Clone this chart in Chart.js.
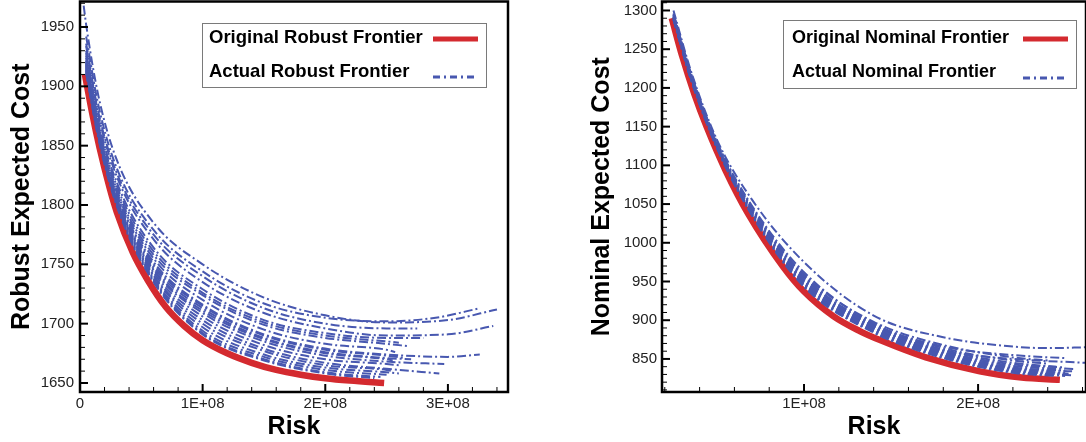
<!DOCTYPE html>
<html>
<head>
<meta charset="utf-8">
<script src="https://cdn.jsdelivr.net/npm/chart.js@4.4.1/dist/chart.umd.min.js"></script>
<style>
  html, body { margin: 0; padding: 0; background: #fff; }
  body { width: 1086px; height: 442px; position: relative; overflow: hidden; }
  .panel { position: absolute; top: 0; height: 442px; }
  #left  { left: 0; width: 540px; }
  #right { left: 575px; width: 511px; }
</style>
</head>
<body>
<div class="panel" id="left"><canvas id="robustChart" width="540" height="442"></canvas></div>
<div class="panel" id="right"><canvas id="nominalChart" width="511" height="442"></canvas></div>
<script>
'use strict';

/* ── DATA (risk in units of 1E+08) ── */

// Left panel — original robust frontier
const robustRedRisk = [0.04, 0.1, 0.16, 0.24, 0.3, 0.43, 0.55, 0.7, 0.85, 1.0, 1.2, 1.4, 1.6, 1.8, 2.0, 2.2, 2.48];
const robustRedCost = [1910, 1877, 1848, 1815, 1794, 1760, 1737, 1714, 1698, 1686, 1675, 1667, 1661, 1657, 1654, 1652, 1650];

// Left panel — actual robust frontiers, sampled on a shared risk grid
const robustGrid = [0.05, 0.15, 0.3, 0.6, 1.0, 1.5, 2.0, 2.5];
const robustActual = [
  [1952, 1892, 1838, 1785, 1750, 1722, 1707, 1701],
  [1942, 1884, 1831, 1779, 1744, 1717, 1705, 1702],
  [1936, 1878, 1827, 1775, 1740, 1713, 1700, 1696],
  [1934, 1876, 1824, 1771, 1735, 1709, 1696, 1690],
  [1930, 1871, 1819, 1764, 1729, 1703, 1692, 1688],
  [1928, 1869, 1816, 1761, 1726, 1701, 1690, 1685],
  [1926, 1867, 1813, 1758, 1724, 1699, 1688, 1683],
  [1924, 1865, 1811, 1755, 1720, 1695, 1683, 1678],
  [1922, 1864, 1809, 1752, 1716, 1691, 1679, 1674],
  [1921, 1863, 1808, 1750, 1715, 1690, 1678, 1673],
  [1920, 1862, 1806, 1748, 1713, 1688, 1676, 1671],
  [1919, 1861, 1805, 1746, 1711, 1687, 1675, 1670],
  [1918, 1861, 1805, 1745, 1709, 1685, 1673, 1668],
  [1917, 1860, 1804, 1743, 1706, 1682, 1670, 1666],
  [1916, 1860, 1804, 1741, 1703, 1679, 1667, 1662],
  [1915, 1860, 1803, 1740, 1700, 1677, 1665, 1661],
  [1914, 1859, 1802, 1738, 1697, 1674, 1663, 1659],
  [1913, 1858, 1801, 1737, 1694, 1672, 1661],
  [1912, 1857, 1800, 1736, 1692, 1670, 1659],
  [1911, 1856, 1799, 1735, 1691, 1669, 1658]
];
// extra points after the grid for each line: [risk, cost]
const robustTails = [
  [[3.0, 1703], [3.4, 1712]],
  [[2.9, 1705], [3.26, 1713]],
  [[2.75, 1696]],
  [[3.0, 1691], [3.37, 1698]],
  [[2.8, 1688]],
  [[2.6, 1684]],
  [[2.68, 1681]],
  [[2.57, 1676]],
  [[3.0, 1672], [3.26, 1674]],
  [[2.65, 1671]],
  [[2.7, 1670]],
  [[2.55, 1669]],
  [[2.97, 1666]],
  [[2.6, 1665]],
  [[2.93, 1658]],
  [[2.55, 1660]],
  [[2.6, 1658]],
  [[2.5, 1657]],
  [[2.45, 1655]],
  [[2.4, 1654]]
];
const robustTopStart = [0.03, 1968];

// Right panel — original nominal frontier
const nominalRedRisk = [0.24, 0.3, 0.37, 0.44, 0.55, 0.68, 0.88, 1.0, 1.17, 1.32, 1.44, 1.7, 2.01, 2.25, 2.47];
const nominalRedCost = [1290, 1241, 1192, 1150, 1093, 1037, 969, 937, 905, 886, 874, 852, 834, 826, 823];

// Right panel — actual nominal frontiers
const nominalGrid = [0.25, 0.35, 0.5, 0.7, 1.0, 1.4, 1.8, 2.2];
const nominalActual = [
  [1300, 1222, 1133, 1056, 975, 906, 878, 866],
  [1296, 1219, 1130, 1048, 962, 896, 866, 855],
  [1295, 1218, 1129, 1046, 959, 898, 868, 852],
  [1294, 1217, 1128, 1045, 957, 892, 861, 850],
  [1294, 1217, 1128, 1044, 956, 895, 864, 848],
  [1293, 1216, 1127, 1043, 954, 894, 862, 845],
  [1292, 1215, 1126, 1042, 952, 893, 860, 843],
  [1292, 1215, 1126, 1041, 951, 892, 859, 841],
  [1291, 1214, 1125, 1040, 950, 891, 858, 839],
  [1291, 1214, 1125, 1039, 949, 890, 857, 838],
  [1290, 1213, 1124, 1038, 948, 889, 856, 837],
  [1290, 1213, 1124, 1038, 947, 888, 855, 836],
  [1289, 1212, 1123, 1037, 946, 887, 854, 835],
  [1289, 1212, 1123, 1037, 945, 886, 853, 834],
  [1288, 1211, 1123, 1036, 944, 885, 852, 833],
  [1288, 1211, 1122, 1036, 943, 884, 851, 832]
];
const nominalTails = [
  [[2.4, 864], [2.62, 865]],
  [[2.5, 851]],
  [[2.4, 848]],
  [[2.62, 845]],
  [[2.4, 844]],
  [[2.45, 840]],
  [[2.5, 839]],
  [[2.55, 837]],
  [[2.5, 835]],
  [[2.54, 834]],
  [[2.5, 832]],
  [[2.52, 831]],
  [[2.48, 830]],
  [[2.54, 829]],
  [[2.5, 828]],
  [[2.45, 828]]
];

// Tick labels
const robustXTicks  = [0, 1, 2, 3];
const robustXLabels = ['0', '1E+08', '2E+08', '3E+08'];
const robustYTicks  = [1650, 1700, 1750, 1800, 1850, 1900, 1950];
const nominalXTicks  = [1, 2];
const nominalXLabels = ['1E+08', '2E+08'];
const nominalYTicks  = [850, 900, 950, 1000, 1050, 1100, 1150, 1200, 1250, 1300];

/* ── STYLE ── */
const BLUE = '#4858b0';
const RED  = '#d42a2f';
const FONT = '"Liberation Sans", Arial, Helvetica, sans-serif';
const DASH = [9, 3, 2, 3];

/* ── HELPERS ── */
function toPoints(xs, ys) {
  return ys.map((y, i) => ({ x: xs[i], y: y }));
}

function actualSets(grid, lines, tails, label, head) {
  return lines.map((ys, i) => {
    const pts = [];
    if (i === 0 && head) pts.push({ x: head[0], y: head[1] });
    pts.push(...toPoints(grid, ys));
    (tails[i] || []).forEach(p => pts.push({ x: p[0], y: p[1] }));
    return {
      label: label,
      data: pts,
      borderColor: BLUE,
      borderWidth: 2,
      borderDash: DASH,
      pointRadius: 0,
      cubicInterpolationMode: 'monotone'
    };
  });
}

/* ── PLUGIN : frame, inward ticks, legend ── */
const frameTicks = {
  id: 'frameTicks',
  afterDraw(chart, args, o) {
    const { ctx, chartArea: a, scales: { x, y } } = chart;
    ctx.save();
    ctx.strokeStyle = '#000';

    // minor / major ticks pointing inward
    const xStep = o.xMinor, yStep = o.yMinor;
    for (let k = Math.ceil(x.min / xStep - 1e-9); k * xStep <= x.max + 1e-9; k++) {
      const px = x.getPixelForValue(k * xStep);
      const major = k % 5 === 0;
      ctx.lineWidth = major ? 2 : 1;
      ctx.beginPath();
      ctx.moveTo(px, a.bottom);
      ctx.lineTo(px, a.bottom - (major ? 8 : 5));
      ctx.stroke();
    }
    for (let k = Math.ceil(y.min / yStep - 1e-9); k * yStep <= y.max + 1e-9; k++) {
      const py = y.getPixelForValue(k * yStep);
      const major = k % 5 === 0;
      ctx.lineWidth = major ? 2 : 1;
      ctx.beginPath();
      ctx.moveTo(a.left, py);
      ctx.lineTo(a.left + (major ? 8 : 5), py);
      ctx.stroke();
    }

    // box
    ctx.lineWidth = 2.5;
    ctx.strokeRect(a.left, a.top, a.right - a.left, a.bottom - a.top);

    // legend
    const L = o.legend;
    ctx.fillStyle = '#fff';
    ctx.fillRect(L.box[0], L.box[1], L.box[2], L.box[3]);
    ctx.lineWidth = 1;
    ctx.strokeStyle = '#7a7a7a';
    ctx.strokeRect(L.box[0] + 0.5, L.box[1] + 0.5, L.box[2], L.box[3]);

    ctx.fillStyle = '#000';
    ctx.font = 'bold ' + L.size + 'px ' + FONT;
    ctx.textBaseline = 'alphabetic';
    ctx.fillText(L.labels[0], L.textX, L.rows[0]);
    ctx.fillText(L.labels[1], L.textX, L.rows[1]);

    ctx.strokeStyle = RED;
    ctx.lineWidth = 5;
    ctx.beginPath();
    ctx.moveTo(L.sample[0], L.lineY[0]);
    ctx.lineTo(L.sample[1], L.lineY[0]);
    ctx.stroke();

    ctx.strokeStyle = BLUE;
    ctx.lineWidth = 3;
    ctx.setLineDash([7, 4, 2, 4]);
    ctx.beginPath();
    ctx.moveTo(L.sample[0], L.lineY[1]);
    ctx.lineTo(L.sample[1], L.lineY[1]);
    ctx.stroke();
    ctx.restore();
  }
};

/* ── CHART FACTORY ── */
function buildChart(id, cfg) {
  return new Chart(document.getElementById(id), {
    type: 'line',
    data: {
      datasets: [
        ...cfg.actual,
        {
          label: cfg.redLabel,
          data: cfg.red,
          borderColor: RED,
          borderWidth: 6.5,
          pointRadius: 0,
          cubicInterpolationMode: 'monotone'
        }
      ]
    },
    options: {
      responsive: false,
      animation: false,
      devicePixelRatio: 1,
      layout: { padding: cfg.padding },
      plugins: {
        legend: { display: false },
        tooltip: { enabled: false },
        frameTicks: cfg.frame
      },
      scales: {
        x: {
          type: 'linear',
          min: cfg.xMin, max: cfg.xMax,
          grid: { display: false, drawTicks: false },
          border: { display: false },
          afterBuildTicks: s => { s.ticks = cfg.xTicks.map(v => ({ value: v })); },
          afterFit: s => { s.height = 50; s.paddingLeft = 0; s.paddingRight = 0; },
          ticks: {
            padding: 3,
            color: '#222',
            font: { family: FONT, size: 15 },
            maxRotation: 0,
            autoSkip: false,
            callback: v => cfg.xLabels[cfg.xTicks.indexOf(v)]
          },
          title: {
            display: true,
            text: 'Risk',
            color: '#000',
            font: { family: FONT, size: 25, weight: 'bold' },
            padding: { top: 0, bottom: 0 }
          }
        },
        y: {
          type: 'linear',
          min: cfg.yMin, max: cfg.yMax,
          grid: { display: false, drawTicks: false },
          border: { display: false },
          afterBuildTicks: s => { s.ticks = cfg.yTicks.map(v => ({ value: v })); },
          afterFit: s => { s.width = cfg.yWidth; s.paddingTop = 0; s.paddingBottom = 0; },
          ticks: {
            padding: cfg.yPad,
            color: '#222',
            font: { family: FONT, size: 15 },
            autoSkip: false,
            callback: v => String(v)
          },
          title: {
            display: true,
            text: cfg.yTitle,
            color: '#000',
            font: { family: FONT, size: 25, weight: 'bold' },
            padding: { top: cfg.yTitlePad, bottom: 0 }
          }
        }
      }
    },
    plugins: [frameTicks]
  });
}

/* ── INIT ── */
buildChart('robustChart', {
  actual: actualSets(robustGrid, robustActual, robustTails, 'Actual Robust Frontier', robustTopStart),
  red: toPoints(robustRedRisk, robustRedCost),
  redLabel: 'Original Robust Frontier',
  padding: { top: 1.5, right: 32, bottom: 0, left: 0 },
  xMin: 0, xMax: 3.49, yMin: 1642.4, yMax: 1971.5,
  xTicks: robustXTicks, xLabels: robustXLabels, yTicks: robustYTicks,
  yWidth: 80, yPad: 6, yTitlePad: 7,
  yTitle: 'Robust Expected Cost',
  frame: {
    xMinor: 0.2, yMinor: 10,
    legend: {
      box: [202, 23, 284, 64], size: 18.5, textX: 209, rows: [43, 77],
      labels: ['Original Robust Frontier', 'Actual Robust Frontier'],
      sample: [433, 478], lineY: [39, 77]
    }
  }
});

buildChart('nominalChart', {
  actual: actualSets(nominalGrid, nominalActual, nominalTails, 'Actual Nominal Frontier'),
  red: toPoints(nominalRedRisk, nominalRedCost),
  redLabel: 'Original Nominal Frontier',
  padding: { top: 1.5, right: 0, bottom: 0, left: 0 },
  xMin: 0.184, xMax: 2.62, yMin: 807.3, yMax: 1311.6,
  xTicks: nominalXTicks, xLabels: nominalXLabels, yTicks: nominalYTicks,
  yWidth: 87, yPad: 5, yTitlePad: 12,
  yTitle: 'Nominal Expected Cost',
  frame: {
    xMinor: 0.2, yMinor: 10,
    legend: {
      box: [208, 20, 293, 68], size: 18, textX: 217, rows: [43, 77],
      labels: ['Original Nominal Frontier', 'Actual Nominal Frontier'],
      sample: [448, 493], lineY: [39, 78]
    }
  }
});
</script>
</body>
</html>
